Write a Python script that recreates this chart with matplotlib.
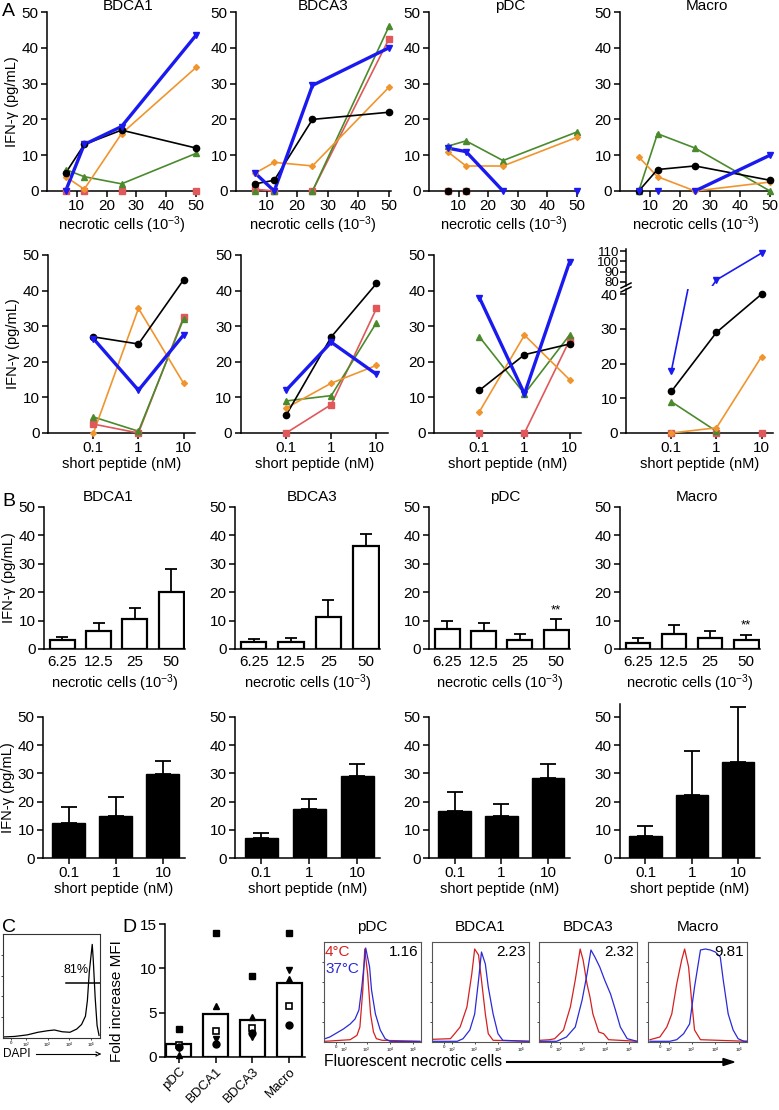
import matplotlib
matplotlib.use('Agg')
import matplotlib.pyplot as plt
from matplotlib.lines import Line2D
import numpy as np

plt.rcParams['font.family'] = ['Liberation Sans', 'DejaVu Sans']
plt.rcParams['mathtext.fontset'] = 'custom'
plt.rcParams['mathtext.rm'] = 'Liberation Sans'
plt.rcParams['mathtext.it'] = 'Liberation Sans:italic'
plt.rcParams['mathtext.default'] = 'regular'
plt.rcParams['axes.linewidth'] = 1.1

nan = np.nan

# ---- A: donors, necrotic cells ----
nec_x = [6.25, 12.5, 25, 50]
nec_bdca1 = {'red': [0, 0, 0, 0], 'green': [6, 4, 2, 10.5], 'orange': [4, 0.5, 16, 34.5],
             'black': [5, 13, 17, 12], 'blue': [0, 13, 18, 43.5]}
nec_bdca3 = {'red': [0.5, 0, 0, 42.5], 'green': [0, 0, 0, 46], 'orange': [5, 8, 7, 29],
             'black': [2, 3, 20, 22], 'blue': [5, 0, 29.5, 40]}
nec_pdc = {'red': [0, 0, nan, nan], 'green': [12.5, 14, 8.5, 16.5], 'orange': [11, 7, 7, 15],
           'black': [0, 0, nan, nan], 'blue': [12, 11, 0, 0]}
nec_macro = {'green': [0, 16, 12, 0], 'orange': [9.5, 4, 0, 2.5],
             'black': [0, 6, 7, 3], 'blue': [0, 0, 0, 10]}

# ---- A: donors, short peptide ----
pep_x = [0.1, 1, 10]
pep_bdca1 = {'red': [2.5, 0, 32.5], 'green': [4.5, 0.5, 32], 'orange': [0, 35, 14],
             'black': [27, 25, 43], 'blue': [26.5, 12, 27.5]}
pep_bdca3 = {'red': [0, 8, 35], 'green': [9, 10.5, 31], 'orange': [7, 14, 19],
             'black': [5, 27, 42], 'blue': [12, 25.5, 16.5]}
pep_pdc = {'red': [0, 0, 26], 'green': [27, 11, 27.5], 'orange': [6, 27.5, 15],
           'black': [12, 22, 25], 'blue': [38, 11, 48]}
pep_macro = {'red': [0, 0, 0], 'green': [9, 0.5, nan], 'orange': [0, 1.5, 22],
             'black': [12, 29, 40], 'blue': [18, 82, 108]}

# ---- B: means ----
nec_labels = ['6.25', '12.5', '25', '50']
pep_labels = ['0.1', '1', '10']
b_nec_mean = {'BDCA1': [3.0, 6.3, 10.7, 20.2], 'BDCA3': [2.6, 2.4, 11.3, 36.2],
              'pDC': [7.2, 6.5, 3.1, 6.6], 'Macro': [2.0, 5.3, 4.0, 3.3]}
b_nec_err = {'BDCA1': [1.3, 2.8, 3.8, 8.1], 'BDCA3': [1.0, 1.5, 5.9, 4.3],
             'pDC': [2.8, 2.8, 2.1, 3.8], 'Macro': [2.0, 3.0, 2.3, 1.8]}
b_pep_mean = {'BDCA1': [12.4, 14.8, 29.9], 'BDCA3': [7.0, 17.2, 29.0],
              'pDC': [16.7, 14.8, 28.5], 'Macro': [7.9, 22.5, 33.9]}
b_pep_err = {'BDCA1': [5.7, 6.7, 4.6], 'BDCA3': [1.7, 3.7, 4.5],
             'pDC': [6.8, 4.4, 5.0], 'Macro': [3.3, 15.6, 19.7]}

# ---- D: fold increase MFI ----
d_cells = ['pDC', 'BDCA1', 'BDCA3', 'Macro']
d_mean = [1.5, 4.85, 4.2, 8.3]
d_sq = [3.2, 14.0, 9.1, 14.0]
d_tri = [0.2, 5.8, 4.5, 8.8]
d_osq = [1.3, 2.9, 3.3, 5.8]
d_itri = [1.0, 2.0, 2.3, 9.8]
d_circ = [1.1, 1.5, 2.7, 3.6]

# ---- C: DAPI histogram (x, y in % of box) ----
dapi_x = [0, 12, 25, 36, 46, 53, 61, 69, 76, 81, 85, 87, 89, 92, 93, 95, 97, 99]
dapi_y = [1, 1.5, 3, 5.5, 7, 7.7, 6, 5.5, 8.6, 13, 21, 36, 64, 90, 76, 39, 12, 2.5]

# ---- flow histograms (x, y in % of box) ----
flow_nums = ['1.16', '2.23', '2.32', '9.81']
red_x = {'pDC': [1, 27, 34, 37, 40, 42, 45, 48, 51, 54, 60, 99],
         'BDCA1': [1, 19, 22, 29, 36, 41, 44, 48, 51, 55, 58, 63, 100],
         'BDCA3': [1, 11, 16, 25, 32, 37, 42, 45, 49, 52, 55, 61, 66, 71, 100],
         'Macro': [2, 12, 19, 24, 29, 34, 37, 41, 44, 47, 53, 100]}
red_y = {'pDC': [0.7, 2.3, 6.7, 15, 52, 93, 68, 28, 10, 3.3, 1.7, 0.7],
         'BDCA1': [2.7, 3.3, 6.7, 15, 35, 68, 93, 87, 62, 28, 8.3, 1.7, 0.7],
         'BDCA3': [1.7, 2.3, 3.3, 12, 35, 62, 93, 82, 58, 45, 28, 10, 8.3, 2.3, 0.7],
         'Macro': [2.3, 5, 15, 28, 58, 82, 93, 75, 42, 12, 2.3, 0.7]}
blue_x = {'pDC': [1, 6, 13, 20, 27, 32, 36, 39, 43, 47, 49, 53, 58, 63, 68, 99],
          'BDCA1': [1, 26, 32, 39, 44, 48, 51, 55, 58, 63, 68, 73, 100],
          'BDCA3': [1, 18, 28, 37, 44, 49, 53, 57, 62, 67, 73, 78, 83, 90, 100],
          'Macro': [2, 22, 29, 36, 42, 47, 53, 58, 63, 68, 73, 76, 81, 86, 91, 97, 100]}
blue_y = {'pDC': [3.3, 5, 9, 13, 18, 23, 32, 55, 94, 75, 52, 28, 12, 3.3, 0.7, 0.5],
          'BDCA1': [0.7, 0.7, 3.3, 12, 28, 62, 90, 78, 55, 28, 8.3, 1.7, 0.7],
          'BDCA3': [0.7, 0.7, 5, 15, 42, 68, 92, 85, 75, 62, 48, 32, 15, 3.3, 0.7],
          'Macro': [0.7, 0.7, 2.3, 8.3, 18, 55, 92, 93, 92, 90, 85, 62, 28, 12, 3.3, 0.7, 0.7]}

donor_style = {'black': ('#000000', 'o', 1.2, 4.5),
               'red': ('#e0585a', 's', 1.2, 4),
               'green': ('#4a8a2c', '^', 1.2, 4.5),
               'orange': ('#f0952e', 'D', 1.2, 3),
               'blue': ('#1a1af0', 'v', 2.4, 5)}

W, H = 779, 1110
fig = plt.figure(figsize=(W / 100, H / 100), dpi=100)

TICK = 11
LAB = 10.5
NEC = 'necrotic cells (10$^{-3}$)'


def px_ax(l, t, r, b):
    return fig.add_axes([l / W, 1 - b / H, (r - l) / W, (b - t) / H])


def ptext(x, y, s, **kw):
    kw.setdefault('ha', 'center')
    kw.setdefault('va', 'center')
    fig.text(x / W, 1 - y / H, s, **kw)


def prism(ax):
    ax.spines['top'].set_visible(False)
    ax.spines['right'].set_visible(False)
    ax.tick_params(direction='out', length=4, width=1.1, labelsize=TICK, pad=2)
    ax.patch.set_alpha(0)


def donors(ax, x, data, clip=False, thin_blue=False):
    for name in ['red', 'green', 'orange', 'black', 'blue']:
        if name not in data:
            continue
        c, m, lw, ms = donor_style[name]
        if name == 'blue' and thin_blue:
            lw = 1.2
        y = data[name]
        cl = clip and name == 'blue'
        # segments lying on the baseline are hidden under the x axis
        for j in range(len(y) - 1):
            if y[j] == 0 and y[j + 1] == 0:
                continue
            ax.plot(x[j:j + 2], y[j:j + 2], color=c, lw=lw, clip_on=cl, zorder=3)
        ax.plot(x, y, ls='none', marker=m, ms=ms, color=c, mec=c, clip_on=cl, zorder=4)


cells = ['BDCA1', 'BDCA3', 'pDC', 'Macro']
ylab = 'IFN-\u03b3 (pg/mL)'

# A top row
a_top_cols = [(47, 197.5), (236, 390.5), (429, 578.5), (620, 771.5)]
a_top_titles = [128, 323, 510, 707]
for i, (d, (l, r)) in enumerate(zip([nec_bdca1, nec_bdca3, nec_pdc, nec_macro], a_top_cols)):
    ax = px_ax(l, 12, r, 191)
    prism(ax)
    donors(ax, nec_x, d)
    ax.set_xlim(0, 50.5)
    ax.set_ylim(0, 50)
    ax.set_xticks([10, 20, 30, 40, 50])
    ax.set_yticks([0, 10, 20, 30, 40, 50])
    ax.set_xlabel(NEC, fontsize=LAB, labelpad=1)
    ptext(a_top_titles[i], 6, cells[i], fontsize=11)
    if i == 0:
        ax.set_ylabel(ylab, fontsize=LAB, labelpad=2)

# A bottom row
a_bot_cols = [(48, 195), (240.5, 388), (434, 581), (626, 773)]
for i, (d, (l, r)) in enumerate(zip([pep_bdca1, pep_bdca3, pep_pdc, pep_macro], a_bot_cols)):
    if i < 3:
        ax = px_ax(l, 255, r, 433)
        ax.set_ylim(0, 50)
        ax.set_yticks([0, 10, 20, 30, 40, 50])
    else:
        ax = px_ax(l, 289, r, 433)
        ax.set_ylim(0, 41.5)
        ax.set_yticks([0, 10, 20, 30, 40])
    prism(ax)
    ax.set_xscale('log')
    donors(ax, pep_x, d, clip=(i == 3), thin_blue=(i == 3))
    ax.set_xlim(0.0098, 18)
    ax.set_xticks(pep_x)
    ax.set_xticklabels(pep_labels)
    ax.minorticks_off()
    ax.set_xlabel('short peptide (nM)', fontsize=LAB, labelpad=1)
    if i == 0:
        ax.set_ylabel(ylab, fontsize=LAB, labelpad=2)
    if i == 3:
        up = px_ax(l, 249, r, 286)
        prism(up)
        up.spines['bottom'].set_visible(False)
        up.set_xscale('log')
        up.set_xlim(0.0098, 18)
        up.set_xticks([])
        up.minorticks_off()
        up.set_ylim(76.1, 112)
        up.set_yticks([80, 90, 100, 110])
        up.tick_params(axis='y', labelsize=9.5, pad=1)
        c, m, lw, ms = donor_style['blue']
        up.plot(pep_x, d['blue'], color=c, marker=m, lw=1.2, ms=ms, mec=c, clip_on=True)
        for dy in (0, 4):
            fig.add_artist(Line2D([(l - 5) / W, (l + 5) / W],
                                  [1 - (288 + dy) / H, 1 - (283 + dy) / H],
                                  color='black', lw=1.1))

# B top row
b_top_cols = [(44, 185), (235, 380), (429, 570), (620, 760)]
b_top_titles = [108, 312, 505, 697]
for i, (name, (l, r)) in enumerate(zip(cells, b_top_cols)):
    ax = px_ax(l, 507, r, 649)
    prism(ax)
    x = np.arange(len(nec_labels))
    v = b_nec_mean[name]
    ax.bar(x, v, width=0.68, color='white', edgecolor='black', lw=1.6, zorder=2)
    ax.errorbar(x, v, yerr=[np.zeros(len(v)), b_nec_err[name]], fmt='none', ecolor='black',
                elinewidth=1.3, capsize=4.5, capthick=1.3, zorder=3)
    ax.set_xlim(-0.5, 3.38)
    ax.set_ylim(0, 50)
    ax.set_yticks([0, 10, 20, 30, 40, 50])
    ax.set_xticks(x)
    ax.set_xticklabels(nec_labels)
    ax.tick_params(axis='x', length=0, pad=4)
    ax.set_xlabel(NEC, fontsize=LAB, labelpad=3)
    ptext(b_top_titles[i], 497, name, fontsize=11)
    if i == 0:
        ax.set_ylabel(ylab, fontsize=LAB, labelpad=2)
    if name in ('pDC', 'Macro'):
        top = v[3] + b_nec_err[name][3]
        ax.text(3, top + 3.2, '**', ha='center', va='center', fontsize=9.5)

# B bottom row
b_bot_cols = [(43, 185), (235, 380), (429, 570), (620, 760)]
for i, (name, (l, r)) in enumerate(zip(cells, b_bot_cols)):
    if name == 'Macro':
        ax = px_ax(l, 704, r, 858)
        ax.set_ylim(0, 54.6)
    else:
        ax = px_ax(l, 717, r, 858)
        ax.set_ylim(0, 50)
    prism(ax)
    x = np.arange(len(pep_labels))
    v = b_pep_mean[name]
    ax.bar(x, v, width=0.7, color='black', edgecolor='black', lw=1, zorder=2)
    ax.errorbar(x, v, yerr=[np.zeros(len(v)), b_pep_err[name]], fmt='none', ecolor='black',
                elinewidth=1.3, capsize=6, capthick=1.3, zorder=1)
    ax.set_xlim(-0.55, 2.47)
    ax.set_yticks([0, 10, 20, 30, 40, 50])
    ax.set_xticks(x)
    ax.set_xticklabels(pep_labels)
    ax.set_xlabel('short peptide (nM)', fontsize=LAB, labelpad=1)
    if i == 0:
        ax.set_ylabel(ylab, fontsize=LAB, labelpad=2)

# C: DAPI
axc = px_ax(3, 934, 100, 1038)
axc.plot(dapi_x, dapi_y, color='black', lw=0.9)
axc.set_xlim(0, 100)
axc.set_ylim(0, 100)
axc.plot([65, 100], [53, 53], color='black', lw=1.1)
axc.text(62, 60, '81%', fontsize=9, ha='left', va='bottom')
axc.set_xticks([8, 24, 46, 68, 91])
axc.set_xticklabels(['0', '10$^2$', '10$^3$', '10$^4$', '10$^5$'], fontsize=3.2)
axc.set_yticks([20, 40, 60, 80])
axc.set_yticklabels([])
axc.tick_params(length=1.5, width=0.5, pad=0.5)
for s in axc.spines.values():
    s.set_linewidth(0.8)
    s.set_color('#333333')
ptext(3, 1054, 'DAPI', fontsize=8.5, ha='left')
fig.add_artist(Line2D([36 / W, 96 / W], [1 - 1054 / H] * 2, color='black', lw=0.8))
fig.add_artist(Line2D([96 / W, 100 / W], [1 - 1052 / H, 1 - 1054 / H], color='black', lw=0.8))
fig.add_artist(Line2D([96 / W, 100 / W], [1 - 1056 / H, 1 - 1054 / H], color='black', lw=0.8))

# D: fold increase MFI
axd = px_ax(165, 924, 305, 1057)
prism(axd)
xd = np.arange(len(d_cells))
axd.bar(xd, d_mean, width=0.68, color='white', edgecolor='black', lw=1.6, zorder=1)
axd.plot(xd, d_sq, 's', color='black', ms=5, zorder=3, clip_on=False)
axd.plot(xd, d_tri, '^', color='black', ms=5, zorder=3, clip_on=False)
axd.plot(xd, d_itri, 'v', color='black', ms=5, zorder=3, clip_on=False)
axd.plot(xd, d_osq, 's', mfc='white', mec='black', mew=1.2, ms=5, zorder=3, clip_on=False)
axd.plot(xd, d_circ, 'o', color='black', ms=5, zorder=3, clip_on=False)
axd.set_xlim(-0.38, 3.43)
axd.set_ylim(0, 15)
axd.set_yticks([0, 5, 10, 15])
axd.set_xticks(xd)
axd.set_xticklabels(d_cells, rotation=45, ha='right', rotation_mode='anchor', fontsize=9.5)
axd.set_ylabel('Fold increase MFI', fontsize=11)
axd.yaxis.set_label_coords(-0.29, 0.42)

# flow histograms
flow_cols = [(324, 421), (432, 529), (539, 637), (648, 747)]
flow_titles = ['pDC', 'BDCA1', 'BDCA3', 'Macro']
for i, (name, (l, r)) in enumerate(zip(flow_titles, flow_cols)):
    ax = px_ax(l, 942, r, 1042)
    ax.plot(red_x[name], red_y[name], color='#d42020', lw=0.9)
    ax.plot(blue_x[name], blue_y[name], color='#2a2ad8', lw=0.9)
    ax.set_xlim(0, 100)
    ax.set_ylim(0, 100)
    ax.set_xticks([12.4, 21, 44, 68, 92])
    ax.set_xticklabels(['0', '10$^2$', '10$^3$', '10$^4$', '10$^5$'], fontsize=3.2)
    ax.set_yticks([20, 40, 60, 80])
    ax.set_yticklabels([])
    ax.tick_params(length=1.5, width=0.5, pad=1)
    for s in ax.spines.values():
        s.set_linewidth(0.8)
        s.set_color('#555555')
    ax.text(97, 97, flow_nums[i], ha='right', va='top', fontsize=11)
    ptext((l + r) / 2, 927, name, fontsize=11)
    if i == 0:
        ax.text(1, 97, '4\u00b0C', color='#d42020', ha='left', va='top', fontsize=11)
        ax.text(1, 80, '37\u00b0C', color='#2a2ad8', ha='left', va='top', fontsize=11)

ptext(324, 1062, 'Fluorescent necrotic cells', fontsize=11.3, ha='left')
fig.add_artist(Line2D([507 / W, 726 / W], [1 - 1062 / H] * 2, color='black', lw=1.5))
fig.patches.append(plt.Polygon([[723 / W, 1 - 1058.5 / H], [734 / W, 1 - 1062 / H],
                                [723 / W, 1 - 1065.5 / H]], closed=True, color='black',
                               transform=fig.transFigure, figure=fig))

# panel letters
ptext(2, 12, 'A', fontsize=14, ha='left')
ptext(2, 501, 'B', fontsize=14, ha='left')
ptext(2, 928, 'C', fontsize=14, ha='left')
ptext(122, 928, 'D', fontsize=14, ha='left')

fig.savefig('out.png', dpi=100)
